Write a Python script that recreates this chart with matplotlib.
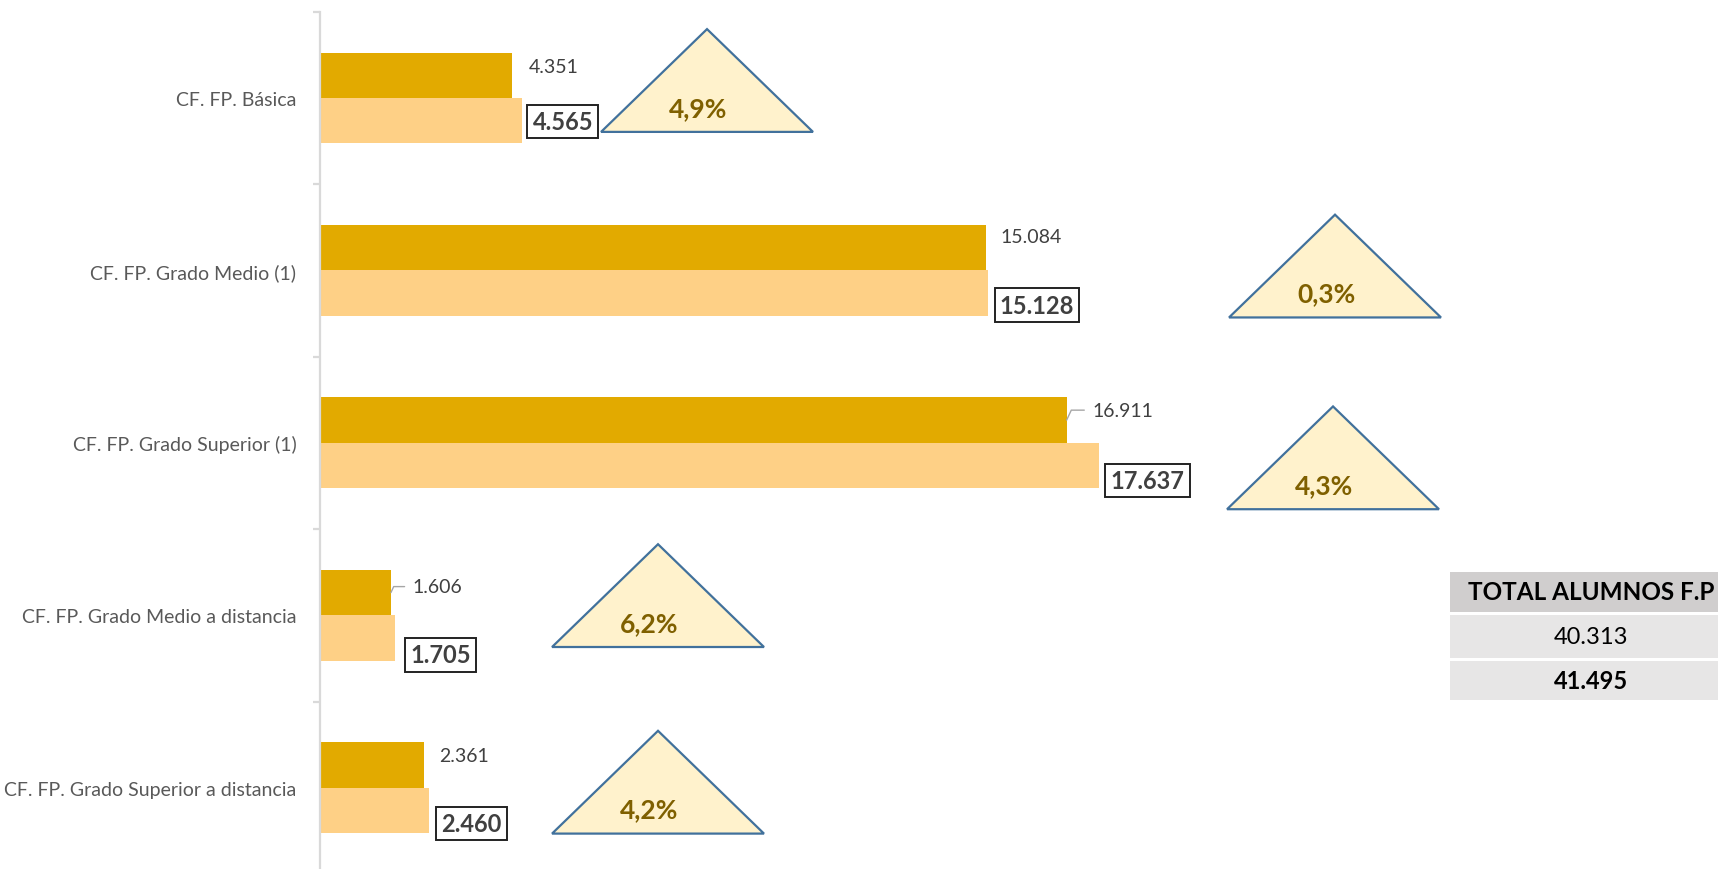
import matplotlib.pyplot as plt
from matplotlib.patches import Polygon, Rectangle

plt.rcParams['font.family'] = ['Lato', 'DejaVu Sans']

# data
categories = ['CF. FP. Básica', 'CF. FP. Grado Medio (1)', 'CF. FP. Grado Superior (1)',
              'CF. FP. Grado Medio a distancia', 'CF. FP. Grado Superior a distancia']
prev_year = [4351, 15084, 16911, 1606, 2361]
this_year = [4565, 15128, 17637, 1705, 2460]

# layout of the labels / triangles (pixels and category units)
dark_off = [(17, 9), (15, 11), (26, 10), (22, 6), (15, 10)]
light_off = [(11, -1), (12, -12), (12, -15), (15, -17), (13, -13)]
leader = [False, False, True, True, False]
tri_x = [8766, 22990, 22945, 7656, 7656]
tri_base = [0.197, 0.273, 0.385, 0.184, 0.266]

W, H = 1718, 870
fig = plt.figure(figsize=(W / 100, H / 100), dpi=100)

def fx(px):
    return px / W

def fy(py):
    return 1 - py / H

# axes: x=0 at 320 px, 44.15 px per 1000; bands of 172.4 px starting at 12.7 px
xmax = 25000
ax_left, ax_w = 320, xmax * 0.04415
ax_top, ax_bot = 12.7, 12.7 + 5 * 172.45
ax = fig.add_axes([fx(ax_left), fy(ax_bot), ax_w / W, (ax_bot - ax_top) / H])

fmt = lambda v: f'{v:,}'.replace(',', '.')

bh = 0.263
y = list(range(len(categories)))
ax.barh([i - bh / 2 for i in y], prev_year, height=bh, color='#E2AA00')
ax.barh([i + bh / 2 for i in y], this_year, height=bh, color='#FED086')

ax.set_xlim(0, xmax)
ax.set_ylim(4.5, -0.5)
for s in ['top', 'right', 'bottom']:
    ax.spines[s].set_visible(False)
ax.spines['left'].set_color('#D9D9D9')
ax.spines['left'].set_linewidth(1.6)
ax.set_xticks([])
ax.set_yticks(y)
ax.set_yticklabels(categories, fontsize=14, color='#595959')
ax.tick_params(axis='y', which='major', length=0, pad=17)
ax.set_yticks([-0.5, 0.5, 1.5, 2.5, 3.5], minor=True)
ax.tick_params(axis='y', which='minor', length=5, width=1.6, color='#D9D9D9')

for i in y:
    # previous year value
    dx, dy = dark_off[i]
    arrow = None
    if leader[i]:
        arrow = dict(arrowstyle='-', color='#A6A6A6', lw=1, patchA=None, shrinkA=6, shrinkB=0,
                     relpos=(0, 0.5), connectionstyle='angle,angleA=0,angleB=65,rad=0')
    ax.annotate(fmt(prev_year[i]), xy=(prev_year[i], i - bh / 2), xytext=(dx, dy),
                textcoords='offset pixels', ha='left', va='center', fontsize=14,
                color='#404040', arrowprops=arrow, annotation_clip=False)
    # this year value, boxed
    dx, dy = light_off[i]
    ax.annotate(fmt(this_year[i]), xy=(this_year[i], i + bh / 2), xytext=(dx, dy),
                textcoords='offset pixels', ha='left', va='center', fontsize=17,
                fontweight='bold', color='#404040', annotation_clip=False,
                bbox=dict(boxstyle='square,pad=0.22', fc='white', ec='#222222', lw=1.4))
    # change triangle
    base = i + tri_base[i]
    top = base - 0.596
    tri = Polygon([(tri_x[i] - 2400, base), (tri_x[i] + 2400, base), (tri_x[i], top)],
                  closed=True, facecolor='#FFF2CC', edgecolor='#41719C', lw=1.6, clip_on=False)
    ax.add_patch(tri)
    pct = (this_year[i] / prev_year[i] - 1) * 100
    ax.text(tri_x[i] - 200, base - 0.14, f'{pct:.1f}%'.replace('.', ','), ha='center',
            va='center', fontsize=19, fontweight='bold', color='#7F6000')

# totals table
rows = [(573, 613, '#D0CECE'), (616, 659, '#E7E6E6'), (662, 701, '#E7E6E6')]
for top, bot, c in rows:
    fig.patches.append(Rectangle((fx(1450), fy(bot)), fx(1718 - 1450), (bot - top) / H,
                                 transform=fig.transFigure, facecolor=c, edgecolor='none'))
fig.text(fx(1591), fy(593), 'TOTAL ALUMNOS F.P', ha='center', va='center', fontsize=17.5,
         fontweight='bold', color='black')
fig.text(fx(1591), fy(638), fmt(sum(prev_year)), ha='center', va='center', fontsize=17,
         color='black')
fig.text(fx(1591), fy(682), fmt(sum(this_year)), ha='center', va='center', fontsize=17,
         fontweight='bold', color='black')

fig.savefig('out.png', dpi=100)
